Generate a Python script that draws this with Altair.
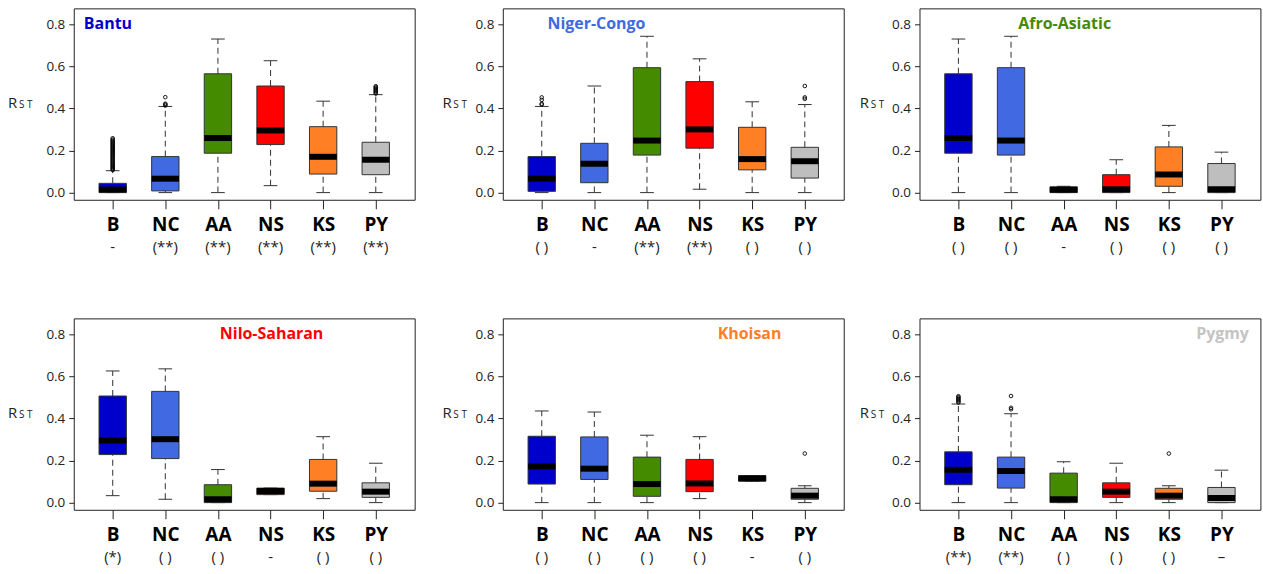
import altair as alt
import pandas as pd

GROUPS = ["B", "NC", "AA", "NS", "KS", "PY"]
GROUP_COLORS = ["#0000CD", "#4169E1", "#458B00", "#FF0000", "#FF7F24", "#BEBEBE"]
PANEL_TITLES = ["Bantu", "Niger-Congo", "Afro-Asiatic", "Nilo-Saharan", "Khoisan", "Pygmy"]
TITLE_COLORS = ["#0000CD", "#4169E1", "#458B00", "#FF0000", "#FF7F24", "#C4C4C4"]

LOW_WHISKER = [
    [0.0, 0.0, 0.0, 0.033, 0.0, 0.0],
    [0.0, 0.0, 0.0, 0.016, 0.0, 0.0],
    [0.0, 0.0, 0.0, 0.0, 0.0, 0.0],
    [0.033, 0.016, 0.0, 0.038, 0.019, 0.0],
    [0.0, 0.0, 0.0, 0.019, 0.102, 0.0],
    [0.0, 0.0, 0.0, 0.0, 0.0, 0.0],
]
Q1 = [
    [0.0, 0.008, 0.187, 0.228, 0.088, 0.085],
    [0.006, 0.047, 0.178, 0.211, 0.108, 0.069],
    [0.187, 0.178, 0.0, 0.0, 0.030, 0.0],
    [0.228, 0.209, 0.0, 0.038, 0.054, 0.025],
    [0.088, 0.110, 0.030, 0.052, 0.102, 0.016],
    [0.085, 0.069, 0.0, 0.025, 0.016, 0.0],
]
MEDIAN = [
    [0.015, 0.066, 0.259, 0.295, 0.170, 0.156],
    [0.066, 0.137, 0.247, 0.300, 0.159, 0.149],
    [0.259, 0.247, 0.014, 0.016, 0.086, 0.016],
    [0.295, 0.301, 0.016, 0.055, 0.090, 0.052],
    [0.172, 0.161, 0.088, 0.091, 0.115, 0.033],
    [0.156, 0.150, 0.016, 0.052, 0.033, 0.022],
]
Q3 = [
    [0.044, 0.171, 0.564, 0.506, 0.313, 0.239],
    [0.171, 0.234, 0.593, 0.527, 0.310, 0.215],
    [0.564, 0.593, 0.027, 0.085, 0.217, 0.138],
    [0.506, 0.528, 0.085, 0.069, 0.205, 0.094],
    [0.315, 0.312, 0.216, 0.205, 0.128, 0.068],
    [0.241, 0.216, 0.140, 0.094, 0.068, 0.072],
]
HIGH_WHISKER = [
    [0.104, 0.409, 0.729, 0.626, 0.434, 0.465],
    [0.409, 0.506, 0.742, 0.635, 0.431, 0.418],
    [0.729, 0.742, 0.030, 0.156, 0.319, 0.192],
    [0.625, 0.635, 0.157, 0.069, 0.313, 0.187],
    [0.435, 0.430, 0.320, 0.313, 0.128, 0.080],
    [0.468, 0.422, 0.194, 0.187, 0.080, 0.154],
]
SIG = [
    ["-", "(**)", "(**)", "(**)", "(**)", "(**)"],
    ["( )", "-", "(**)", "(**)", "( )", "( )"],
    ["( )", "( )", "-", "( )", "( )", "( )"],
    ["(*)", "( )", "( )", "-", "( )", "( )"],
    ["( )", "( )", "( )", "( )", "-", "( )"],
    ["(**)", "(**)", "( )", "( )", "( )", "\u2013"],
]

# outliers per panel: group labels and values
OUTLIER_GROUPS = [
    ["B"] * 31 + ["NC"] * 4 + ["PY"] * 8,
    ["B"] * 4 + ["PY"] * 3,
    [],
    [],
    ["PY"],
    ["B"] * 7 + ["NC"] * 3 + ["KS"],
]
OUTLIER_VALUES = [
    [0.107, 0.112, 0.117, 0.122, 0.127, 0.132, 0.137, 0.142, 0.147, 0.152,
     0.157, 0.162, 0.167, 0.172, 0.177, 0.182, 0.187, 0.192, 0.197, 0.202,
     0.207, 0.212, 0.217, 0.222, 0.227, 0.232, 0.237, 0.242, 0.247, 0.252, 0.258,
     0.413, 0.418, 0.422, 0.453,
     0.470, 0.475, 0.480, 0.485, 0.490, 0.495, 0.500, 0.505],
    [0.418, 0.422, 0.440, 0.452, 0.445, 0.452, 0.506],
    [],
    [],
    [0.233],
    [0.475, 0.480, 0.485, 0.490, 0.495, 0.500, 0.505, 0.443, 0.450, 0.506, 0.233],
]

# layout constants
TITLE_X = [0.91, 2.04, 3.02, 4.02, 4.95, 6.02]
R_X = [-66, -60.6, -60]
W, H = 342, 192
FONT = "Open Sans"
GROUP_LIST_EXPR = "[" + ",".join("'%s'" % g for g in GROUPS) + "]"

xs = alt.Scale(domain=[0.26, 6.74], nice=False, zero=False)
ys = alt.Scale(domain=[-0.034, 0.8745], nice=False, zero=False)
xaxis = alt.Axis(values=[1, 2, 3, 4, 5, 6], labelExpr=GROUP_LIST_EXPR + "[datum.value - 1]",
                 labelFont=FONT, labelFontSize=19, labelFontWeight="bold", labelColor="black",
                 tickSize=9, tickColor="#222", tickWidth=1, domain=False, grid=False, title=None,
                 labelPadding=7, labelFlush=False, labelOverlap=False)
yaxis = alt.Axis(values=[0, 0.2, 0.4, 0.6, 0.8], format=".1f", labelFont=FONT,
                 labelFontSize=13.5, labelColor="#222", tickSize=5, tickColor="#222", tickWidth=1,
                 domain=False, grid=False, title=None, labelPadding=4, labelFlush=False)


def X(f):
    return alt.X(f, type="quantitative", scale=xs, axis=xaxis)


def Y(f):
    return alt.Y(f, type="quantitative", scale=ys, axis=yaxis)


def panel(i):
    col = i % 3
    df = pd.DataFrame({
        "grp": GROUPS,
        "x": list(range(1, len(GROUPS) + 1)),
        "lo": LOW_WHISKER[i],
        "q1": Q1[i],
        "med": MEDIAN[i],
        "q3": Q3[i],
        "hi": HIGH_WHISKER[i],
        "sig": SIG[i],
    })
    base = alt.Chart(df).transform_calculate(
        xl="datum.x - 0.26", xr="datum.x + 0.26",
        cl="datum.x - 0.13", cr="datum.x + 0.13")
    whisk_lo = base.mark_rule(strokeDash=[6, 4], color="#444", strokeWidth=1.1).encode(
        x=X("x"), y=Y("lo"), y2="q1")
    whisk_hi = base.mark_rule(strokeDash=[6, 4], color="#444", strokeWidth=1.1).encode(
        x=X("x"), y=Y("q3"), y2="hi")
    cap_lo = base.mark_rule(color="#333", strokeWidth=1).encode(x=X("cl"), x2="cr", y=Y("lo"))
    cap_hi = base.mark_rule(color="#333", strokeWidth=1).encode(x=X("cl"), x2="cr", y=Y("hi"))
    box = base.mark_rect(stroke="#333", strokeWidth=1).encode(
        x=X("xl"), x2="xr", y=Y("q1"), y2="q3",
        color=alt.Color("grp:N", scale=alt.Scale(domain=GROUPS, range=GROUP_COLORS), legend=None))
    med = base.mark_rule(color="black", strokeWidth=6).encode(x=X("xl"), x2="xr", y=Y("med"))
    sig = base.mark_text(font=FONT, fontSize=15, color="#222", baseline="middle").encode(
        x=X("x"), y=alt.value(H + 47), text="sig:N")
    layers = [whisk_lo, whisk_hi, cap_lo, cap_hi, box, med, sig]
    if OUTLIER_VALUES[i]:
        odf = pd.DataFrame({"grp": OUTLIER_GROUPS[i], "v": OUTLIER_VALUES[i]})
        out = alt.Chart(odf).transform_calculate(
            x="indexof(%s, datum.grp) + 1" % GROUP_LIST_EXPR
        ).mark_point(shape="circle", filled=False, size=13, color="black",
                     strokeWidth=0.9, opacity=1).encode(x=X("x"), y=Y("v"))
        layers.append(out)
    one = pd.DataFrame({"k": [0]})
    title = alt.Chart(one).mark_text(text=PANEL_TITLES[i], font=FONT, fontSize=16,
                                     fontWeight="bold", color=TITLE_COLORS[i],
                                     baseline="middle").encode(
        x=alt.datum(TITLE_X[i]), y=alt.datum(0.8))
    rlab = alt.Chart(one).mark_text(text="R", font=FONT, fontSize=15, color="#222",
                                    align="left", baseline="alphabetic").encode(
        x=alt.value(R_X[col]), y=alt.datum(0.4))
    stlab = alt.Chart(one).mark_text(text="S T", font=FONT, fontSize=10, color="#222",
                                     align="left", baseline="alphabetic").encode(
        x=alt.value(R_X[col] + 11), y=alt.datum(0.4))
    layers += [title, rlab, stlab]
    return alt.layer(*layers).properties(width=W, height=H)


panels = [panel(i) for i in range(6)]


def row(a, b, c):
    return alt.hconcat(a, alt.hconcat(b, c, spacing=14), spacing=25.4)


chart = alt.vconcat(row(*panels[:3]), row(*panels[3:]), spacing=62).properties(
    padding={"left": 7, "top": 6.5, "right": 2, "bottom": 2},
    background="white",
).configure_view(stroke="#222", strokeWidth=1)

chart.save("out.html", embed_options={"renderer": "svg", "actions": False})
